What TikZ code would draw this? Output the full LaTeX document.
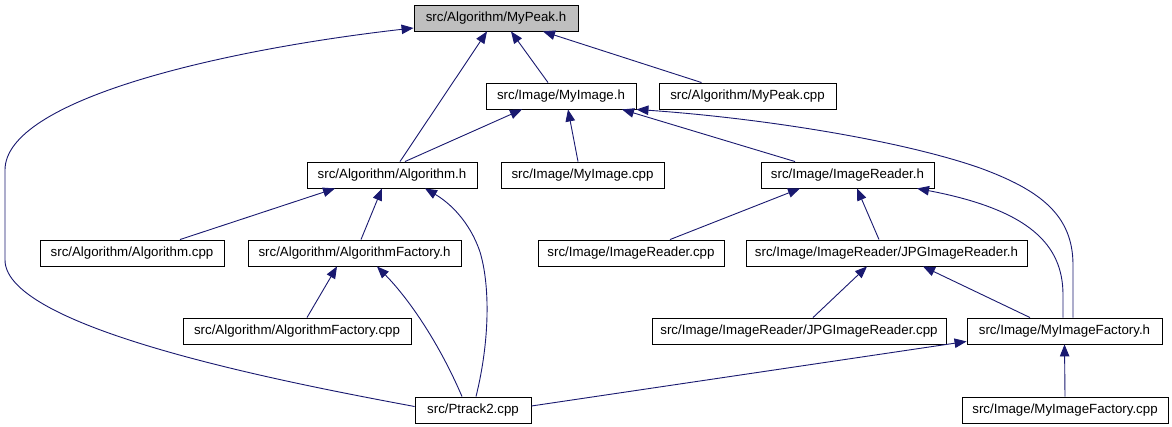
\documentclass[tikz,border=0pt]{standalone}
\usepackage{fontspec}
\setmainfont{Liberation Sans}
\usetikzlibrary{arrows.meta}
\definecolor{navyc}{HTML}{191970}
\definecolor{grayfill}{HTML}{BFBFBF}
\tikzset{
  box/.style={draw=black, line width=0.9pt, minimum height=26pt, inner sep=0pt, fill=white,
    font=\fontsize{13.3pt}{16pt}\selectfont},
  edge/.style={draw=navyc, line width=0.9pt, -{Triangle[length=12pt,width=9.5pt,fill=navyc]}}
}
\begin{document}
\begin{tikzpicture}[x=1pt,y=-1pt]
\fill[white] (0,0) rectangle (1172,427);
\useasboundingbox (0,0) rectangle (1172,427);
% row 1
\node[box, fill=grayfill, minimum width=164pt] (peakh) at (496,18) {src/Algorithm/MyPeak.h};
% row 2
\node[box, minimum width=150pt] (myimageh) at (561,96) {src/Image/MyImage.h};
\node[box, minimum width=177pt] (peakcpp) at (747.5,96) {src/Algorithm/MyPeak.cpp};
% row 3
\node[box, minimum width=170pt] (algh) at (392,175) {src/Algorithm/Algorithm.h};
\node[box, minimum width=163pt] (myimagecpp) at (582.5,175) {src/Image/MyImage.cpp};
\node[box, minimum width=173pt] (readerh) at (847.5,175) {src/Image/ImageReader.h};
% row 4
\node[box, minimum width=184pt] (algcpp) at (132,253) {src/Algorithm/Algorithm.cpp};
\node[box, minimum width=213pt] (algfach) at (354.5,253) {src/Algorithm/AlgorithmFactory.h};
\node[box, minimum width=186pt] (readercpp) at (631,253) {src/Image/ImageReader.cpp};
\node[box, minimum width=281pt] (jpgh) at (886.5,253) {src/Image/ImageReader/JPGImageReader.h};
% row 5
\node[box, minimum width=228pt] (algfaccpp) at (297,331) {src/Algorithm/AlgorithmFactory.cpp};
\node[box, minimum width=294pt] (jpgcpp) at (799,331) {src/Image/ImageReader/JPGImageReader.cpp};
\node[box, minimum width=195pt] (factoryh) at (1064.5,331) {src/Image/MyImageFactory.h};
% row 6
\node[box, minimum width=116pt] (ptrack) at (473,410) {src/Ptrack2.cpp};
\node[box, minimum width=206pt] (factorycpp) at (1065,410) {src/Image/MyImageFactory.cpp};

% edges (child -> included parent)
\draw[edge] ([xshift=-13pt]myimageh.north) -- ([xshift=15pt]peakh.south);
\draw[edge] ([xshift=-46pt]peakcpp.north) -- ([xshift=47pt]peakh.south);
\draw[edge] ([xshift=8pt]algh.north) -- ([xshift=-9pt]peakh.south);
\draw[edge] ([yshift=3.5pt]ptrack.west) .. controls (300,385) and (5,330) .. (5,260)
  -- (5,170) .. controls (5,100) and (220,50) .. ([yshift=-10pt]peakh.west);

\draw[edge] ([xshift=13pt]algh.north) -- ([xshift=-39pt]myimageh.south);
\draw[edge] ([xshift=-4.5pt]myimagecpp.north) -- ([xshift=7pt]myimageh.south);
\draw[edge] ([xshift=-52.5pt]readerh.north) -- ([xshift=61pt]myimageh.south);
\draw[edge] ([xshift=8.5pt]factoryh.north) -- (1073,265) .. controls (1073,215) and (1040,190) .. (980,168)
  .. controls (900,140) and (760,118) .. (myimageh.south east);

\draw[edge] ([xshift=48pt]algcpp.north) -- ([xshift=-57pt]algh.south);
\draw[edge] ([xshift=6.5pt]algfach.north) -- ([xshift=-10pt]algh.south);
\draw[edge] ([xshift=3pt]ptrack.north) .. controls (490,340) and (490,285) .. (480,252)
  .. controls (470,222) and (450,203) .. ([xshift=33pt]algh.south);

\draw[edge] ([xshift=10pt]algfaccpp.north) -- ([xshift=-17.5pt]algfach.south);
\draw[edge] ([xshift=-11pt]ptrack.north) .. controls (440,345) and (410,300) .. ([xshift=22.5pt]algfach.south);

\draw[edge] ([xshift=39pt]readercpp.north) -- ([xshift=-47.5pt]readerh.south);
\draw[edge] ([xshift=-7.5pt]jpgh.north) -- ([xshift=9.5pt]readerh.south);
\draw[edge] ([xshift=-1.5pt]factoryh.north) -- (1063,295) .. controls (1063,245) and (1030,210) .. ([xshift=69.5pt]readerh.south);

\draw[edge] ([xshift=14pt]jpgcpp.north) -- ([xshift=-19.5pt]jpgh.south);
\draw[edge] ([xshift=-34.5pt]factoryh.north) -- ([xshift=36.5pt]jpgh.south);

\draw[edge] ([yshift=4pt]ptrack.east) -- ([yshift=3pt]factoryh.south west);
\draw[edge] (factorycpp.north) -- (factoryh.south);
\end{tikzpicture}
\end{document}
